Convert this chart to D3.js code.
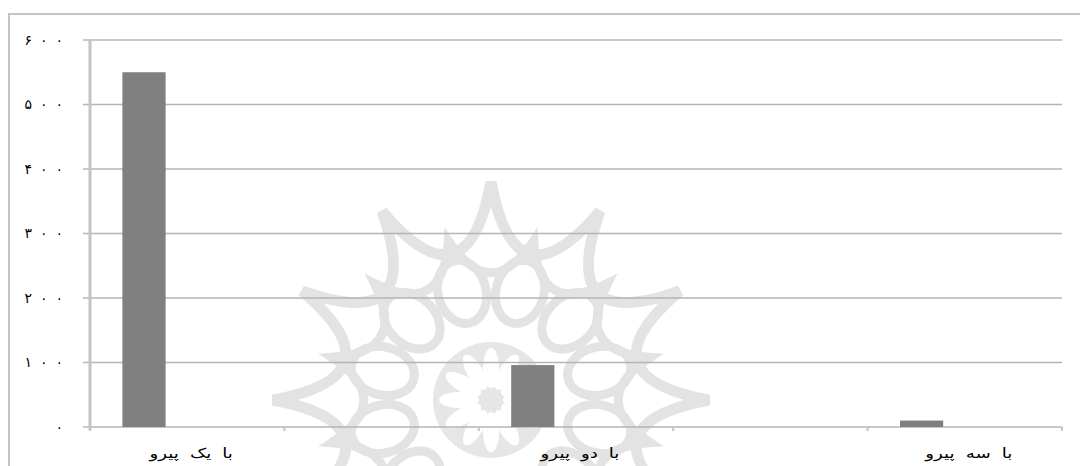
<!DOCTYPE html>
<html>
<head>
<meta charset="utf-8">
<script src="https://cdn.jsdelivr.net/npm/d3@7"></script>
<style>
    body { margin: 0; background: #fff; }
    svg { display: block; }
    text { font-family: "DejaVu Sans", sans-serif; fill: #000; }
</style>
</head>
<body>
<div id="chart"></div>
<script>
// data
var categories = ["با یک پیرو", "", "با دو پیرو", "", "با سه پیرو"];
var seriesNames = ["سری ۱", "سری ۲", "سری ۳"];
var series1 = [550, 0, 96, 0, 10];
var series2 = [0, 0, 0, 0, 0];
var series3 = [0, 0, 0, 0, 0];
var yTicks = [0, 100, 200, 300, 400, 500, 600];
var yTickLabels = ["۰", "۱۰۰", "۲۰۰", "۳۰۰", "۴۰۰", "۵۰۰", "۶۰۰"];

var svgWidth = 1080, svgHeight = 466;
var plotLeft = 90, plotRight = 1062, plotTop = 40, plotBottom = 427;

var svg = d3.select("#chart").append("svg")
    .attr("width", svgWidth)
    .attr("height", svgHeight);

// outer frame (runs off the right and bottom edges)
svg.append("rect")
    .attr("x", 9).attr("y", 14)
    .attr("width", 1100).attr("height", 500)
    .attr("fill", "none")
    .attr("stroke", "#c4c4c4")
    .attr("stroke-width", 2);

// faint watermark rosette behind the plot
var wm = svg.append("g")
    .attr("transform", "translate(491,400)")
    .attr("fill", "none")
    .attr("stroke", "#e3e3e3");

var R = 218, rc = 92;
var starPath = "";
for (var k = 0; k < 12; k++) {
    var a0 = (k * 30 - 90) * Math.PI / 180;
    var a1 = ((k + 1) * 30 - 90) * Math.PI / 180;
    var am = (a0 + a1) / 2;
    if (k == 0) starPath += "M" + R * Math.cos(a0) + "," + R * Math.sin(a0);
    starPath += "Q" + rc * Math.cos(am) + "," + rc * Math.sin(am) + " " + R * Math.cos(a1) + "," + R * Math.sin(a1);
}
wm.append("path").attr("d", starPath + "Z").attr("stroke-width", 11);

// second, smaller scalloped ring
var ring2 = "";
for (var k = 0; k < 12; k++) {
    var b0 = (k * 30 - 75) * Math.PI / 180;
    var b1 = ((k + 1) * 30 - 75) * Math.PI / 180;
    var bm = (b0 + b1) / 2;
    if (k == 0) ring2 += "M" + 165 * Math.cos(b0) + "," + 165 * Math.sin(b0);
    ring2 += "Q" + 95 * Math.cos(bm) + "," + 95 * Math.sin(bm) + " " + 165 * Math.cos(b1) + "," + 165 * Math.sin(b1);
}
wm.append("path").attr("d", ring2 + "Z").attr("stroke-width", 9);

wm.selectAll("ellipse.loop")
    .data(d3.range(12))
    .enter()
    .append("ellipse")
    .attr("class", "loop")
    .attr("rx", 24).attr("ry", 32)
    .attr("stroke-width", 9)
    .attr("transform", function (d) {
        return "rotate(" + (d * 30 + 15) + ") translate(0,-112)";
    });

wm.append("circle").attr("r", 58).attr("fill", "#e6e6e6").attr("stroke", "none");
wm.selectAll("ellipse.petal")
    .data(d3.range(12))
    .enter()
    .append("ellipse")
    .attr("class", "petal")
    .attr("rx", 8).attr("ry", 20)
    .attr("fill", "#fff").attr("stroke", "none")
    .attr("transform", function (d) {
        return "rotate(" + (d * 30) + ") translate(0,-32)";
    });

// scales
var x = d3.scaleBand()
    .domain(d3.range(categories.length))
    .range([plotLeft, plotRight]);

var xInner = d3.scaleBand()
    .domain(seriesNames)
    .range([0, x.bandwidth()])
    .paddingOuter(0.75);

var y = d3.scaleLinear()
    .domain([0, 600])
    .range([plotBottom, plotTop]);

// gridlines
svg.append("g")
    .selectAll("line")
    .data(yTicks)
    .enter()
    .append("line")
    .attr("x1", plotLeft - 7)
    .attr("x2", plotRight)
    .attr("y1", function (d) { return y(d); })
    .attr("y2", function (d) { return y(d); })
    .attr("stroke", "#b4b4b4")
    .attr("stroke-width", 1.5);

// y axis
var yAxis = svg.append("g")
    .attr("transform", "translate(" + plotLeft + ",0)")
    .call(d3.axisLeft(y)
        .tickValues(yTicks)
        .tickSize(0)
        .tickPadding(27)
        .tickFormat(function (d, i) { return yTickLabels[i]; }));
yAxis.select(".domain").remove();

// persian digits ignore letter-spacing, so spread them with tspans
yAxis.selectAll("text").each(function () {
    var t = d3.select(this);
    var chars = t.text().split("");
    t.text(null)
        .attr("font-size", 14)
        .attr("font-family", "DejaVu Sans");
    chars.forEach(function (c, i) {
        t.append("tspan").attr("dx", i == 0 ? 0 : 8).text(c);
    });
});

svg.append("line")
    .attr("x1", plotLeft).attr("x2", plotLeft)
    .attr("y1", plotTop).attr("y2", plotBottom + 3)
    .attr("stroke", "#c4c4c4")
    .attr("stroke-width", 3);

// bars
var allSeries = [series1, series2, series3];
var groups = svg.append("g")
    .selectAll("g")
    .data(categories)
    .enter()
    .append("g")
    .attr("transform", function (d, i) { return "translate(" + x(i) + ",0)"; });

groups.selectAll("rect")
    .data(function (d, i) {
        return seriesNames.map(function (s, j) { return { s: s, v: allSeries[j][i] }; });
    })
    .enter()
    .append("rect")
    .attr("x", function (d) { return xInner(d.s); })
    .attr("y", function (d) { return y(d.v); })
    .attr("width", xInner.bandwidth())
    .attr("height", function (d) { return plotBottom - y(d.v); })
    .attr("fill", "#808080");

// x axis
var xAxis = svg.append("g")
    .attr("transform", "translate(0," + plotBottom + ")");
xAxis.selectAll("line")
    .data(d3.range(categories.length + 1))
    .enter()
    .append("line")
    .attr("x1", function (d) { return plotLeft + d * x.step(); })
    .attr("x2", function (d) { return plotLeft + d * x.step(); })
    .attr("y1", 0).attr("y2", 4)
    .attr("stroke", "#c4c4c4")
    .attr("stroke-width", 2);

xAxis.selectAll("text")
    .data(categories)
    .enter()
    .append("text")
    .attr("x", function (d, i) { return x(i) + x.bandwidth() / 2 + 4; })
    .attr("y", 31)
    .attr("text-anchor", "middle")
    .attr("font-size", 14)
    .style("word-spacing", "4px")
    .text(function (d) { return d; })
    .each(function (d) {
        // stretch the labels a bit like the source rendering
        if (d) {
            var w = this.getComputedTextLength();
            d3.select(this)
                .attr("textLength", w * 1.3)
                .attr("lengthAdjust", "spacingAndGlyphs");
        }
    });
</script>
</body>
</html>
